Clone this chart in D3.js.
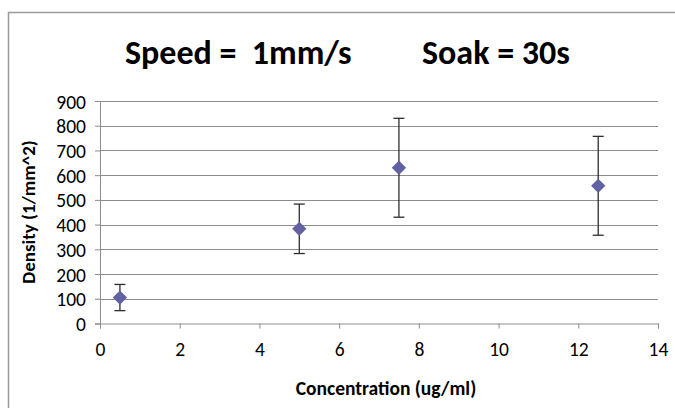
<!DOCTYPE html>
<html>
<head>
<meta charset="utf-8">
<script src="https://cdn.jsdelivr.net/npm/d3@7"></script>
<style>
  body { margin: 0; background: #fff; }
  svg { display: block; }
</style>
</head>
<body>
<svg id="chart" width="675" height="408"></svg>
<script>
// values
const concentration = [0.5, 5, 7.5, 12.5];
const density = [105, 383, 630, 557];
const densityErr = [53, 100, 200, 200];
const xTicks = [0, 2, 4, 6, 8, 10, 12, 14];
const yTicks = [0, 100, 200, 300, 400, 500, 600, 700, 800, 900];
const titleParts = ["Speed =  1mm/s", "Soak = 30s"];
const xLabel = "Concentration (ug/ml)";
const yLabel = "Density (1/mm^2)";

const fontFamily = "Carlito, 'Open Sans', 'Liberation Sans', sans-serif";
const markerColor = "#6262a2";
const gridColor = "#8c8c8c";

const margin = { top: 101, right: 17, bottom: 84.5, left: 100 };
const width = 675, height = 408;
const chartWidth = width - margin.left - margin.right;
const chartHeight = height - margin.top - margin.bottom;

const svg = d3.select("#chart");

// outer border of the chart area
svg.append("rect")
    .attr("x", 8.5).attr("y", 12.5)
    .attr("width", 700).attr("height", 420)
    .style("fill", "none")
    .style("stroke", "#9a9a9a")
    .style("stroke-width", 1.5);

const xScale = d3.scaleLinear().domain([0, 14]).range([0, chartWidth]);
const yScale = d3.scaleLinear().domain([0, 900]).range([chartHeight, 0]);

const chart = svg.append("g")
    .attr("transform", "translate(" + margin.left + "," + margin.top + ")");

// horizontal gridlines
chart.append("g")
    .selectAll("line")
    .data(yTicks.filter(d => d > 0))
    .join("line")
    .attr("x1", 0).attr("x2", chartWidth)
    .attr("y1", d => Math.round(yScale(d)) + 0.5)
    .attr("y2", d => Math.round(yScale(d)) + 0.5)
    .style("stroke", gridColor)
    .style("stroke-width", 1);

const xAxis = d3.axisBottom(xScale)
    .tickValues(xTicks)
    .tickSize(5)
    .tickPadding(14)
    .tickFormat(d3.format("d"));

const yAxis = d3.axisLeft(yScale)
    .tickValues(yTicks)
    .tickSize(5)
    .tickPadding(9)
    .tickFormat(d3.format("d"));

const gx = chart.append("g")
    .attr("transform", "translate(0," + chartHeight + ")")
    .call(xAxis);

const gy = chart.append("g")
    .call(yAxis);

[gx, gy].forEach(g => {
    g.select(".domain").style("stroke", gridColor);
    g.selectAll(".tick line").style("stroke", gridColor);
    g.selectAll("text")
        .style("font-family", fontFamily)
        .style("font-size", "19.5px")
        .style("fill", "#000");
});
gx.selectAll("text").attr("dy", "0.71em");
gy.selectAll("text").attr("dy", "0.36em");

// error bars
const capHalf = 5.5;
const errG = chart.append("g")
    .selectAll("g")
    .data(concentration.map((c, i) => ({ x: c, y: density[i], e: densityErr[i] })))
    .join("g")
    .style("stroke", "#2e2e2e")
    .style("stroke-width", 1.3);

errG.append("line")
    .attr("x1", d => xScale(d.x)).attr("x2", d => xScale(d.x))
    .attr("y1", d => yScale(d.y + d.e)).attr("y2", d => yScale(d.y - d.e));
errG.append("line")
    .attr("x1", d => xScale(d.x) - capHalf).attr("x2", d => xScale(d.x) + capHalf)
    .attr("y1", d => yScale(d.y + d.e)).attr("y2", d => yScale(d.y + d.e));
errG.append("line")
    .attr("x1", d => xScale(d.x) - capHalf).attr("x2", d => xScale(d.x) + capHalf)
    .attr("y1", d => yScale(d.y - d.e)).attr("y2", d => yScale(d.y - d.e));

// diamond markers
chart.append("g")
    .selectAll("path")
    .data(concentration.map((c, i) => ({ x: c, y: density[i] })))
    .join("path")
    .attr("d", d3.symbol().type(d3.symbolDiamond2).size(130))
    .attr("transform", d => "translate(" + xScale(d.x) + "," + yScale(d.y) + ")")
    .style("fill", markerColor);

// title
const title = svg.append("text")
    .attr("y", 64)
    .style("font-family", fontFamily)
    .style("font-weight", "bold")
    .style("font-size", "34px")
    .style("white-space", "pre")
    .style("fill", "#000");
title.append("tspan").attr("x", 125).text(titleParts[0]);
title.append("tspan").attr("x", 422).text(titleParts[1]);

// axis titles
svg.append("text")
    .attr("x", 386)
    .attr("y", 395)
    .attr("text-anchor", "middle")
    .style("font-family", fontFamily)
    .style("font-weight", "bold")
    .style("font-size", "19.5px")
    .text(xLabel);

svg.append("text")
    .attr("transform", "translate(35,212) rotate(-90)")
    .attr("text-anchor", "middle")
    .style("font-family", fontFamily)
    .style("font-weight", "bold")
    .style("font-size", "19px")
    .text(yLabel);
</script>
</body>
</html>
